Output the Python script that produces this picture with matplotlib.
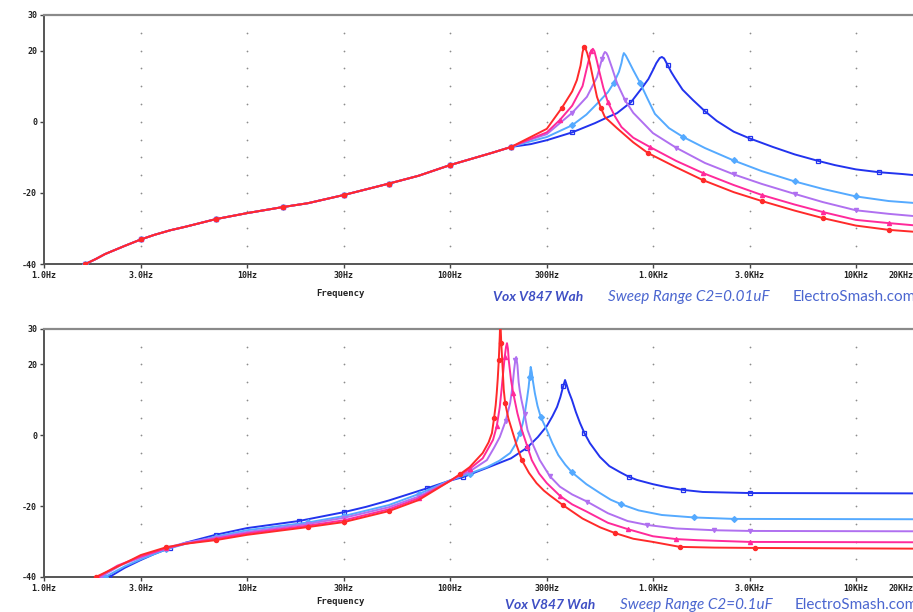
import numpy as np
import matplotlib
matplotlib.use("Agg")
import matplotlib.pyplot as plt
import matplotlib.transforms as mtrans

# tick labels / grid
tick_f = [1, 3, 10, 30, 100, 300, 1000, 3000, 10000, 20000]
tick_lbl = ["1.0Hz", "3.0Hz", "10Hz", "30Hz", "100Hz", "300Hz", "1.0KHz", "3.0KHz", "10KHz", "20KHz"]
ytick_v = [30, 20, 0, -20, -40]
ytick_lbl = ["30", "20", "0", "-20", "-40"]
grid_f = [3, 10, 30, 100, 300, 1000, 3000, 10000]
grid_db = [25, 20, 15, 10, 5, 0, -5, -10, -15, -20, -25, -30, -35]

# top panel, C2=0.01uF (shared low end, then each trace)
top_low_f = [1.6, 1.8, 2.0, 2.5, 3.0, 3.5, 4.2, 5.0, 7.0, 10, 15, 20, 30, 40, 50, 70, 100, 130, 160, 200]
top_low_db = [-40, -38.6, -37.2, -34.9, -33.1, -31.8, -30.5, -29.5, -27.4, -25.7, -24.0, -22.9, -20.6, -18.8, -17.4,
              -15.2, -12.2, -10.3, -8.8, -7.1]

top_blue_f = [250, 300, 400, 518, 600, 665, 780, 883, 950, 1000, 1040, 1080, 1107, 1135, 1180, 1230, 1283, 1400,
              1574, 1800, 2066, 2500, 3000, 3900, 5000, 6500, 7880, 10000, 13000, 16900, 20000]
top_blue_db = [-6.3, -5.2, -3.0, -0.4, 1.3, 2.4, 5.5, 9.5, 12.0, 14.5, 16.5, 17.9, 18.2, 17.8, 16.0, 14.0, 12.3, 9.0,
               6.1, 3.0, 0.2, -2.8, -4.7, -7.1, -9.2, -11.0, -12.2, -13.4, -14.2, -14.7, -15.1]
top_lblue_f = [250, 300, 400, 470, 540, 600, 640, 680, 700, 710, 719, 735, 760, 800, 863, 940, 1023, 1200, 1400,
               1804, 2500, 3442, 5000, 6880, 10000, 14500, 20000]
top_lblue_db = [-5.5, -4.3, -1.0, 2.0, 5.5, 8.3, 10.8, 14.0, 16.5, 18.3, 19.3, 18.6, 17.0, 14.5, 11.0, 6.5, 2.2, -1.8,
                -4.2, -7.4, -10.9, -13.9, -16.8, -18.9, -21.0, -22.3, -22.9]
top_violet_f = [250, 300, 400, 473, 530, 560, 572, 580, 590, 600, 630, 665, 730, 800, 900, 1000, 1300, 1804, 2500,
                3442, 5000, 6880, 10000, 14500, 20000]
top_violet_db = [-5.0, -3.5, 2.5, 7.0, 12.5, 17.5, 19.0, 19.6, 19.3, 18.5, 15.0, 10.9, 6.0, 2.5, -0.5, -3.2, -7.3,
                 -11.6, -14.8, -17.5, -20.3, -22.6, -24.9, -25.9, -26.6]
top_pink_f = [250, 300, 348, 400, 450, 479, 495, 506, 515, 530, 545, 570, 600, 650, 700, 800, 966, 1300, 1760, 2500,
              3440, 5000, 6880, 10000, 14500, 20000]
top_pink_db = [-4.8, -3.0, 0.5, 4.5, 10.0, 16.5, 19.8, 20.5, 19.8, 17.0, 14.0, 9.5, 5.5, 1.5, -1.5, -4.5, -7.1, -11.0,
               -14.4, -17.8, -20.6, -23.3, -25.4, -27.6, -28.5, -29.2]
top_red_f = [250, 300, 356, 400, 422, 440, 450, 457, 465, 475, 489, 510, 530, 555, 580, 665, 800, 945, 1300, 1760,
             2500, 3440, 5000, 6880, 10000, 14500, 20000]
top_red_db = [-4.3, -2.0, 3.9, 8.5, 11.7, 15.8, 19.5, 21.0, 20.6, 19.2, 16.5, 11.5, 7.0, 3.8, 1.3, -1.8, -5.8, -8.8,
              -12.8, -16.4, -19.8, -22.3, -25.0, -27.1, -29.2, -30.4, -31.0]

# bottom panel, C2=0.1uF
bot_blue_f = [2.1, 2.5, 3, 3.5, 4.18, 5, 7, 10, 18, 30, 38.6, 50, 76.8, 100, 116, 152, 200, 240, 271, 300, 320, 337,
              350, 362, 369, 376, 385, 399, 417, 437, 460, 489, 548, 610, 688, 760, 834, 1000, 1160, 1400, 1760, 3000,
              20000]
bot_blue_db = [-40, -37.4, -35.2, -33.5, -31.8, -30.3, -28.1, -26.2, -24.2, -21.7, -20.2, -18.4, -15.0, -12.8, -11.8,
               -9.2, -6.5, -3.5, -0.5, 2.6, 5.4, 8.0, 10.8, 14.0, 15.6, 14.2, 12.3, 10.0, 6.6, 3.5, 0.6, -2.2, -6.1,
               -8.7, -10.4, -11.7, -12.6, -13.8, -14.6, -15.4, -16.0, -16.3, -16.4]
bot_lblue_f = [2.0, 2.5, 3, 4, 5, 7, 10, 20, 30, 50, 70, 100, 125, 152, 175, 198, 210, 221, 228, 234, 240, 244, 247,
               250, 253, 256, 262, 270, 280, 300, 320, 342, 370, 400, 470, 548, 620, 700, 850, 1107, 1600, 2500, 20000]
bot_lblue_db = [-40, -37.0, -35.0, -32.2, -30.6, -28.6, -26.8, -24.6, -22.8, -19.7, -16.6, -12.7, -10.8, -9.0, -7.2,
                -5.0, -2.6, 0.6, 3.2, 6.3, 10.5, 13.5, 16.5, 19.3, 17.8, 15.5, 11.9, 8.3, 5.2, 1.5, -2.3, -5.6, -8.3,
                -10.5, -13.8, -16.3, -18.2, -19.5, -21.2, -22.5, -23.2, -23.6, -23.7]
bot_violet_f = [1.9, 2.4, 3, 4, 5, 7, 10, 20, 30, 50, 70, 100, 125, 152, 165, 176, 188, 198, 203, 207, 210, 212, 215,
                218, 221, 225, 233, 241, 258, 277, 310, 348, 400, 473, 600, 750, 934, 1300, 2000, 3000, 20000]
bot_violet_db = [-40, -36.6, -34.5, -31.8, -30.3, -28.9, -27.3, -25.0, -23.3, -20.3, -17.3, -12.8, -10.2, -7.0, -3.5,
                 -0.5, 4.0, 9.1, 13.5, 18.4, 21.3, 22.1, 19.8, 15.0, 12.5, 10.0, 6.0, 1.5, -3.0, -7.0, -11.5, -14.5,
                 -16.7, -18.7, -22.0, -24.2, -25.3, -26.3, -26.8, -27.0, -27.1]
bot_pink_f = [1.85, 2.3, 3, 4, 5, 7, 10, 20, 30, 50, 70, 100, 125, 145, 163, 170, 176, 180, 182, 186, 189, 191, 193,
              195, 200, 205, 215, 226, 240, 253, 275, 300, 350, 400, 470, 600, 753, 1000, 1300, 1650, 3000, 20000]
bot_pink_db = [-40, -36.8, -34.2, -31.9, -30.6, -29.2, -27.7, -25.5, -24.0, -20.9, -17.8, -12.9, -9.5, -6.5, -1.3,
               2.5, 8.0, 13.5, 16.5, 22.0, 25.0, 26.0, 24.5, 21.0, 15.5, 11.9, 6.2, 1.5, -3.0, -7.0, -10.8, -13.5,
               -17.2, -19.5, -21.5, -24.7, -26.5, -28.5, -29.3, -29.6, -30.1, -30.2]
bot_red_f = [1.8, 2.2, 2.6, 3, 4, 5, 7, 10, 20, 30, 50, 70, 100, 112, 125, 145, 155, 161, 165, 168, 170, 172, 174, 176,
             177, 179, 182, 184, 187, 194, 202, 213, 226, 245, 267, 290, 311, 360, 450, 550, 650, 800, 1000, 1358,
             2000, 3180, 20000]
bot_red_db = [-40, -37.6, -35.6, -33.8, -31.6, -30.6, -29.6, -28.1, -25.9, -24.5, -21.4, -18.3, -12.9, -11.0, -9.0,
              -5.0, -2.0, 0.6, 4.9, 8.5, 11.9, 16.0, 21.2, 28.0, 33.0, 26.0, 18.4, 13.0, 9.1, 4.8, 1.5, -2.8, -7.0,
              -10.6, -13.5, -15.6, -17.0, -19.7, -23.5, -26.0, -27.6, -29.2, -30.1, -31.5, -31.7, -31.8, -32.0]

colors = ["#2233EE", "#55AAFF", "#B070F0", "#FF2A9A", "#FF2A2A"]
markers = ["s", "D", "v", "^", "o"]

top_traces = [(top_blue_f, top_blue_db), (top_lblue_f, top_lblue_db), (top_violet_f, top_violet_db),
              (top_pink_f, top_pink_db), (top_red_f, top_red_db)]
bot_traces = [(bot_blue_f, bot_blue_db), (bot_lblue_f, bot_lblue_db), (bot_violet_f, bot_violet_db),
              (bot_pink_f, bot_pink_db), (bot_red_f, bot_red_db)]

W, H = 913, 612
fig = plt.figure(figsize=(W / 100, H / 100), dpi=100)

mono = {"family": "DejaVu Sans Mono", "weight": "bold", "size": 6}


def setup_axes(ax):
    ax.set_xscale("log")
    ax.set_xlim(1, 20000)
    ax.set_ylim(-40, 30)
    ax.minorticks_off()
    ax.set_xticks(tick_f)
    ax.set_xticklabels(tick_lbl, fontdict=mono, color="#222222")
    ax.set_yticks(ytick_v)
    ax.set_yticklabels(ytick_lbl, fontdict=mono, color="#222222")
    ax.tick_params(length=3, width=1, color="#444444", pad=2)
    last = ax.get_xticklabels()[-1]
    last.set_horizontalalignment("right")
    last.set_transform(last.get_transform() + mtrans.ScaledTranslation(-4 / 100, 0, fig.dpi_scale_trans))
    for s in ["left", "bottom"]:
        ax.spines[s].set_color("#555555")
        ax.spines[s].set_linewidth(1.4)
    ax.spines["top"].set_color("#8a8a8a")
    ax.spines["top"].set_linewidth(1.6)
    ax.spines["right"].set_visible(False)
    gx, gy = np.meshgrid(grid_f, grid_db)
    ax.scatter(gx.ravel(), gy.ravel(), s=1.6, color="#8c8c8c", zorder=1, linewidths=0)


def draw(ax, traces, shared=None):
    for (f, db), c, m in zip(traces, colors, markers):
        if shared is not None:
            f = shared[0] + f
            db = shared[1] + db
        mfc = "none" if m == "s" else c
        ax.plot(f, db, color=c, lw=1.4, marker=m, ms=3, mfc=mfc, mec=c, mew=0.9,
                markevery=0.07, zorder=3, solid_joinstyle="round")


ax1 = fig.add_axes([44 / W, 1 - 264 / H, 873 / W, 249 / H])
setup_axes(ax1)
draw(ax1, top_traces, shared=(top_low_f, top_low_db))

ax2 = fig.add_axes([44 / W, 1 - 577 / H, 873 / W, 248 / H])
setup_axes(ax2)
draw(ax2, bot_traces)

cap = dict(family="Lato", va="center")
for y, c2, x0, x1, x2 in [(297, "Sweep Range C2=0.01uF", 493, 608, 793),
                          (605, "Sweep Range C2=0.1uF", 505, 620, 795)]:
    yy = 1 - y / H
    fig.text(340 / W, 1 - (y - 4) / H, "Frequency", ha="center", va="center",
             family="DejaVu Sans Mono", weight="bold", size=6.5, color="#222222")
    fig.text(x0 / W, yy, "Vox V847 Wah", color="#3F4FC4", style="italic", weight="bold", size=10, **cap)
    fig.text(x1 / W, yy, c2, color="#4B66D0", style="italic", size=11, **cap)
    fig.text(x2 / W, yy, "ElectroSmash.com", color="#4B66D0", size=11, **cap)

fig.savefig("out.png", dpi=100)
